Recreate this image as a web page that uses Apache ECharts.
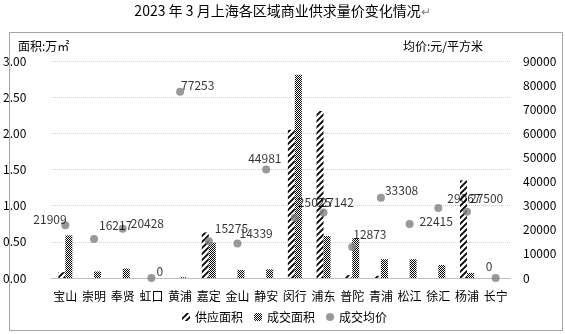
<!DOCTYPE html>
<html><head><meta charset="utf-8">
<script src="https://cdn.jsdelivr.net/npm/echarts@6/dist/echarts.min.js"></script>
<style>html,body{margin:0;padding:0;background:#fff}#c{width:565px;height:334px}</style>
</head><body><div id="c"></div>
<script>
const categories = ['宝山','崇明','奉贤','虹口','黄浦','嘉定','金山','静安','闵行','浦东','普陀','青浦','松江','徐汇','杨浦','长宁'];
const supplyArea = [0.08, 0, 0, 0, 0, 0.63, 0, 0, 2.05, 2.31, 0.04, 0.03, 0, 0, 1.35, 0];
const dealArea = [0.59, 0.09, 0.13, 0, 0.01, 0.49, 0.11, 0.12, 2.81, 0.58, 0.55, 0.26, 0.26, 0.18, 0.07, 0];
const avgPrice = [21909, 16217, 20428, 0, 77253, 15275, 14339, 44981, 25025, 27142, 12873, 33308, 22415, 29067, 27500, 0];
const leftTicks = {min: 0, max: 3, interval: 0.5};
const rightTicks = {min: 0, max: 90000, interval: 10000};

// label placement offsets (style only), relative to the 'right' position
const labelOffsets = [[-36,-6],[1,-13],[4,-5],[1,-7],[-3,-6],[2,-13],[-2,-10],[-22,-11],
                      [-1,-15],[-7,-10],[-3,-13],[0,-7],[6,-3],[5,-9],[-1,-13],[-14,-12]];

function hatchPattern(){
  const c = document.createElement('canvas'); c.width = 6; c.height = 6;
  const g = c.getContext('2d');
  g.fillStyle = '#fff'; g.fillRect(0,0,6,6);
  g.strokeStyle = '#000'; g.lineWidth = 1.8;
  g.beginPath();
  g.moveTo(-1,7); g.lineTo(7,-1);
  g.moveTo(-4,4); g.lineTo(4,-4);
  g.moveTo(2,10); g.lineTo(10,2);
  g.stroke();
  return c;
}
function checkPattern(){
  const c = document.createElement('canvas'); c.width = 2; c.height = 2;
  const g = c.getContext('2d');
  g.fillStyle = '#fff'; g.fillRect(0,0,2,2);
  g.fillStyle = '#000'; g.fillRect(0,0,1,1); g.fillRect(1,1,1,1);
  return c;
}
const FONT = '"Noto Sans CJK SC", "Noto Sans", sans-serif';
const chart = echarts.init(document.getElementById('c'), null, {renderer: 'canvas'});
const priceData = avgPrice.map((v, i) => ({value: v, label: {offset: labelOffsets[i]}}));
chart.setOption({
  animation: false,
  textStyle: {fontFamily: FONT},
  title: {text: '2023 年 3 月上海各区域商业供求量价变化情况{m|↵}', left: 'center', top: 0,
    padding: [4, 0, 3, 22],
    textStyle: {fontSize: 14, fontWeight: 'normal', color: '#000', fontFamily: FONT,
      rich: {m: {fontSize: 12, color: '#808080', fontFamily: FONT}}}},
  graphic: [
    {type: 'rect', shape: {x: 9.5, y: 32.5, width: 553, height: 298}, style: {fill: 'none', stroke: '#a6a6a6', lineWidth: 1}, silent: true},
    {type: 'text', left: 18, top: 40, style: {text: '面积:万㎡', fontSize: 12, fill: '#000', fontFamily: FONT}},
    {type: 'text', right: 82, top: 40, style: {text: '均价:元/平方米', fontSize: 12, fill: '#000', fontFamily: FONT}}
  ],
  legend: {bottom: 6, left: 177, itemWidth: 8, itemHeight: 8, itemGap: 11,
    textStyle: {fontSize: 12, color: '#000', fontFamily: FONT},
    data: ['供应面积', '成交面积', '成交均价']},
  grid: {left: 47, right: 55, top: 61, bottom: 56},
  xAxis: {type: 'category', data: categories,
    axisLine: {lineStyle: {color: '#bfbfbf'}}, axisTick: {show: false},
    axisLabel: {color: '#000', fontSize: 12, margin: 12, interval: 0, fontFamily: FONT}},
  yAxis: [
    {type: 'value', min: leftTicks.min, max: leftTicks.max, interval: leftTicks.interval,
      axisLabel: {formatter: v => v.toFixed(2), color: '#000', fontSize: 12, margin: 11, align: 'left', padding: [0,0,0,-37], fontFamily: FONT},
      splitLine: {lineStyle: {color: '#d0d0d0', type: 'dotted'}},
      axisLine: {show: false}, axisTick: {show: false}},
    {type: 'value', min: rightTicks.min, max: rightTicks.max, interval: rightTicks.interval,
      axisLabel: {formatter: v => String(v), color: '#000', fontSize: 12, margin: 13, fontFamily: FONT},
      splitLine: {show: false}, axisLine: {show: false}, axisTick: {show: false}}
  ],
  series: [
    {name: '供应面积', type: 'bar', data: supplyArea, barWidth: 7, barGap: '0%',
      itemStyle: {color: {image: hatchPattern(), repeat: 'repeat'}}},
    {name: '成交面积', type: 'bar', data: dealArea, barWidth: 7,
      itemStyle: {color: {image: checkPattern(), repeat: 'repeat'}}},
    {name: '成交均价', type: 'scatter', yAxisIndex: 1, data: priceData, symbolSize: 8, clip: false,
      itemStyle: {color: '#808080'}, z: 5,
      label: {show: true, position: 'right', distance: 0, color: '#000', fontSize: 12, fontFamily: FONT}}
  ]
});
</script></body></html>
